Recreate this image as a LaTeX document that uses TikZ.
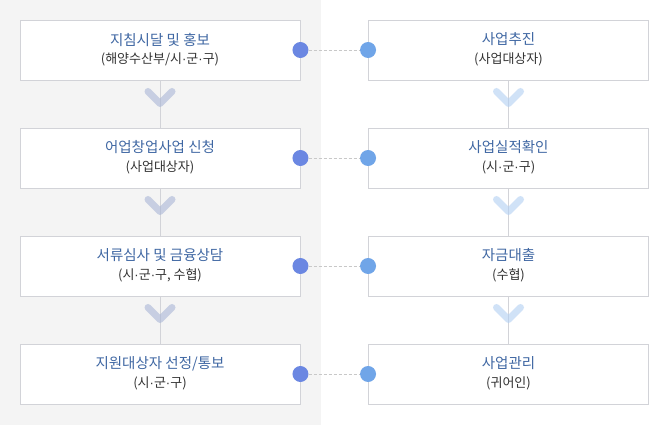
\documentclass[tikz,border=0pt]{standalone}
\usepackage{fontspec}
\setmainfont{Noto Sans CJK KR}
\newfontfamily\dotfont{Liberation Sans}
\newcommand{\md}{{\dotfont ·}}
\begin{document}
\begin{tikzpicture}[x=1pt,y=-1pt,
  box/.style={draw=boxline, fill=white, line width=0.9pt, minimum width=280pt, minimum height=60pt, inner sep=0pt, align=center},
  ttl/.style={text=ttlblue, font=\fontsize{14.5}{17}\selectfont},
  sub/.style={text=subgray, font=\fontsize{13}{15}\selectfont},
  dotl/.style={circle, fill=dotleft, minimum size=16pt, inner sep=0pt},
  dotr/.style={circle, fill=dotright, minimum size=16pt, inner sep=0pt},
  link/.style={draw=dashgray, dashed, dash pattern=on 3pt off 2pt, line width=0.7pt},
  vline/.style={draw=boxline, line width=0.9pt},
  chevl/.style={draw=chevleft, line width=7pt, line cap=round, line join=round, draw opacity=0.6},
  chevr/.style={draw=chevright, line width=7pt, line cap=round, line join=round, draw opacity=0.6}
]
\definecolor{boxline}{HTML}{D2D3D8}
\definecolor{ttlblue}{HTML}{3F67A3}
\definecolor{subgray}{HTML}{333333}
\definecolor{dotleft}{HTML}{6B87E2}
\definecolor{dotright}{HTML}{70A5E8}
\definecolor{dashgray}{HTML}{C8C8C8}
\definecolor{chevleft}{HTML}{A9B6D6}
\definecolor{chevright}{HTML}{B2CFF3}
\definecolor{panel}{HTML}{F4F4F4}
\useasboundingbox (0,0) rectangle (665,425);
\fill[white] (0,0) rectangle (665,425);
\fill[panel] (0,0) rectangle (321,425);

% left column
\node[box] (l1) at (160,50) {};
\node[box] (l2) at (160,158) {};
\node[box] (l3) at (160,266) {};
\node[box] (l4) at (160,374) {};
% right column
\node[box] (r1) at (508.5,50) {};
\node[box] (r2) at (508.5,158) {};
\node[box] (r3) at (508.5,266) {};
\node[box] (r4) at (508.5,374) {};

% texts
\node[ttl] (l1t) at (160,39.5) {지침시달 및 홍보};
\node[sub] (l1s) at (160,59) {(해양수산부/시\md 군\md 구)};
\node[ttl] (l2t) at (160,147.5) {어업창업사업 신청};
\node[sub] (l2s) at (160,167) {(사업대상자)};
\node[ttl] (l3t) at (160,255.5) {서류심사 및 금융상담};
\node[sub] (l3s) at (160,275) {(시\md 군\md 구, 수협)};
\node[ttl] (l4t) at (160,363.5) {지원대상자 선정/통보};
\node[sub] (l4s) at (160,383) {(시\md 군\md 구)};

\node[ttl] (r1t) at (508.5,39.5) {사업추진};
\node[sub] (r1s) at (508.5,59) {(사업대상자)};
\node[ttl] (r2t) at (508.5,147.5) {사업실적확인};
\node[sub] (r2s) at (508.5,167) {(시\md 군\md 구)};
\node[ttl] (r3t) at (508.5,255.5) {자금대출};
\node[sub] (r3s) at (508.5,275) {(수협)};
\node[ttl] (r4t) at (508.5,363.5) {사업관리};
\node[sub] (r4s) at (508.5,383) {(귀어인)};

% vertical connectors
\foreach \a/\b in {l1/l2,l2/l3,l3/l4,r1/r2,r2/r3,r3/r4}{
  \draw[vline] (\a.south) -- (\b.north);
}
% chevrons
\foreach \y in {90,198,306}{
  \draw[chevl] (148,\y+1.5) -- (160,\y+13.5) -- (172,\y+1.5);
  \draw[chevr] (496.5,\y+1.5) -- (508.5,\y+13.5) -- (520.5,\y+1.5);
}

% dots and dashed links
\foreach \i in {1,2,3,4}{
  \node[dotl] (dl\i) at (l\i.east) {};
  \node[dotr] (dr\i) at (r\i.west) {};
  \draw[link] (dl\i) -- (dr\i);
}
\end{tikzpicture}
\end{document}
